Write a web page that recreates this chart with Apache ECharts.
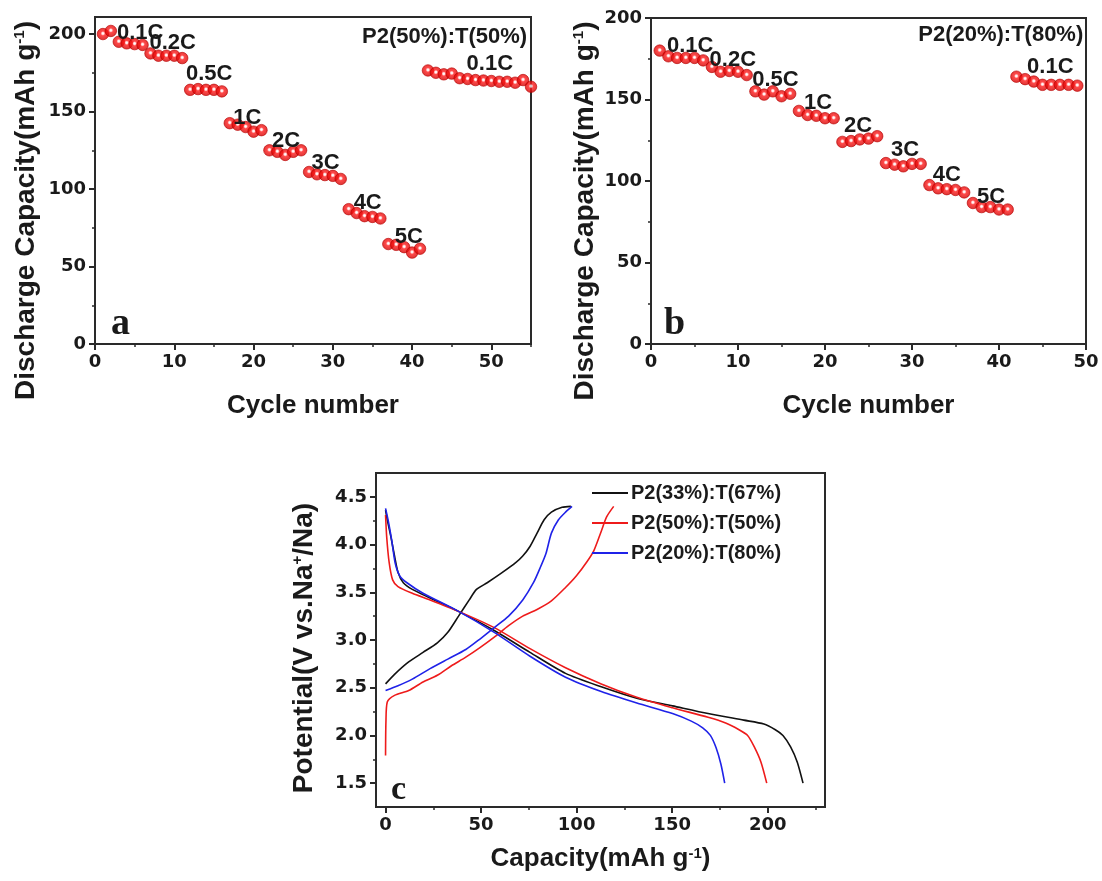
<!DOCTYPE html>
<html><head><meta charset="utf-8">
<script src="https://cdn.jsdelivr.net/npm/echarts@6/dist/echarts.min.js"></script>
<style>html,body{margin:0;padding:0;background:#fff}#c{width:1102px;height:881px}</style>
</head><body><div id="c"></div>
<script>
// ---------- Panel a : P2(50%):T(50%) rate capability ----------
const aCycles = [1,2,3,4,5,6,7,8,9,10,11,12,13,14,15,16,17,18,19,20,21,22,23,24,25,26,27,28,29,30,31,32,33,34,35,36,37,38,39,40,41,42,43,44,45,46,47,48,49,50,51,52,53,54,55];
const aCapacity = [200,202,195,194,193.5,193,
  187.5,186,186,186,184.5,
  164,164.5,164,164,163,
  142.5,141.5,140,137,138,
  125,124,122,124,125,
  111,109.5,109,108.5,106.5,
  87,84.5,82.5,82,81,
  64.5,64,62.5,59,61.5,
  176.5,175,174,174.5,171.5,171,170.3,170,169.7,169.2,169.2,168.6,170.3,166];
const aLabelText = ['0.1C','0.2C','0.5C','1C','2C','3C','4C','5C','0.1C','P2(50%):T(50%)'];
const aLabelPos = [[5.7,201],[9.8,194],[14.4,174],[19.2,146],[24.1,131],[29.1,117],[34.4,91],[39.6,69],[49.8,181],[44.1,198]];

// ---------- Panel b : P2(20%):T(80%) rate capability ----------
const bCycles = [1,2,3,4,5,6,7,8,9,10,11,12,13,14,15,16,17,18,19,20,21,22,23,24,25,26,27,28,29,30,31,32,33,34,35,36,37,38,39,40,41,42,43,44,45,46,47,48,49];
const bCapacity = [180,176.5,175.5,175.5,175.5,174,
  170,167,167.5,167,165,
  155,153,155,152,153.5,
  143,140.5,140,138.5,138.5,
  124,124.5,125.5,126,127.5,
  111,110,109,110.5,110.5,
  97.5,95.5,95,94.5,93,
  86.5,84,84,82.5,82.5,
  164,162.5,161,159,159,159,159,158.5];
const bLabelText = ['0.1C','0.2C','0.5C','1C','2C','3C','4C','5C','0.1C','P2(20%):T(80%)'];
const bLabelPos = [[4.5,183],[9.4,174],[14.3,162],[19.2,148],[23.8,134],[29.2,119],[34,104],[39.1,90],[45.9,170],[40.2,189.6]];

// ---------- Panel c : charge / discharge profiles [capacity, potential] ----------
const seriesNames = ['P2(33%):T(67%)','P2(50%):T(50%)','P2(20%):T(80%)'];
const p33Discharge = [[0,4.36],[0.9,4.26],[2.8,4.08],[4.7,3.88],[6.5,3.71],[9.3,3.60],[14,3.53],[23.3,3.44],[38.2,3.30],[56.9,3.10],[75.6,2.87],[94.2,2.65],[112.9,2.51],[131.5,2.39],[150.2,2.31],[168.8,2.23],[187.5,2.16],[198,2.12],[204,2.06],[208,2.0],[212,1.88],[215.5,1.72],[218.5,1.5]];
const p33Charge = [[0,2.54],[4.7,2.64],[12.1,2.77],[19.6,2.87],[27.1,2.97],[32.6,3.08],[38.2,3.25],[43.8,3.42],[47.6,3.53],[53.2,3.60],[60.6,3.70],[68.1,3.81],[71.8,3.88],[75.6,3.98],[79.3,4.12],[83,4.26],[86.8,4.34],[92.4,4.39],[97,4.40]];
const p50Discharge = [[0,4.31],[0.6,4.08],[1.9,3.81],[3.7,3.63],[6.5,3.56],[14,3.49],[23.3,3.42],[38.2,3.30],[56.9,3.13],[75.6,2.91],[94.2,2.71],[112.9,2.54],[131.5,2.40],[150.2,2.29],[168.8,2.19],[178,2.13],[185,2.06],[189.5,2.0],[193,1.88],[196.5,1.72],[199.5,1.5]];
const p50Charge = [[0,1.79],[0.2,2.14],[0.9,2.35],[4.7,2.42],[12.1,2.47],[19.6,2.56],[27.1,2.63],[34.5,2.73],[42,2.82],[49.4,2.92],[56.9,3.03],[64.4,3.15],[71.8,3.25],[79.3,3.32],[86.8,3.41],[94.2,3.55],[99.8,3.67],[105.4,3.82],[109.1,3.94],[112.9,4.14],[115.7,4.29],[119.4,4.40]];
const p20Discharge = [[0,4.38],[1.3,4.26],[3.2,4.05],[5,3.81],[7.5,3.67],[11.2,3.60],[19.6,3.49],[38.2,3.30],[56.9,3.08],[75.6,2.83],[94.2,2.61],[112.9,2.46],[131.5,2.34],[150.2,2.23],[160,2.15],[166,2.08],[170,2.0],[173,1.87],[175.5,1.7],[177.5,1.5]];
const p20Charge = [[0,2.47],[6.5,2.52],[14,2.59],[23.3,2.70],[32.6,2.80],[42,2.90],[49.4,3.01],[56.9,3.13],[64.4,3.25],[71.8,3.42],[77.4,3.60],[81.2,3.77],[84,3.91],[86.8,4.12],[90.5,4.26],[94.2,4.34],[97.6,4.40]];

// ---------- tick values ----------
const cycleTicks = [0,10,20,30,40,50];
const cycleMinorA = [5,15,25,35,45,55];
const cycleMinorB = [5,15,25,35,45];
const capTicks = [0,50,100,150,200];
const capMinor = [25,75,125,175];
const capXTicks = [0,50,100,150,200];
const capXMinor = [25,75,125,175,225];
const potTicks = [1.5,2.0,2.5,3.0,3.5,4.0,4.5];
const potMinor = [1.75,2.25,2.75,3.25,3.75,4.25];

const AX = '#2a2a2a';
const TXT = '#1a1a1a';
const TICKFONT = {fontFamily:'DejaVu Sans', fontWeight:'bold', fontSize:18, color:TXT};
const XNAMEFONT = {fontFamily:'Liberation Sans', fontWeight:'bold', fontSize:26, color:TXT};
const supRich = {sup:{fontFamily:'Liberation Sans', fontWeight:'bold', fontSize:15, color:TXT, verticalAlign:'top', padding:[0,0,11,0]}};
function yNameFont(size, shift) {
  return {fontFamily:'Liberation Sans', fontWeight:'bold', fontSize:size, color:TXT,
    padding:[0, shift, 0, 0], rich:supRich};
}

function majorAxis(grid, min, max, ticks, extra) {
  return Object.assign({
    type:'value', gridIndex:grid, min:min, max:max,
    axisLine:{show:true, onZero:false, lineStyle:{color:AX, width:2}},
    axisTick:{show:true, inside:false, length:6, lineStyle:{color:AX, width:2}, customValues:ticks},
    axisLabel:Object.assign({show:true, customValues:ticks, margin:9,
      formatter:function(v){return String(v);}}, TICKFONT),
    splitLine:{show:false}
  }, extra||{});
}
function minorAxis(grid, min, max, ticks, pos) {
  return {
    type:'value', gridIndex:grid, min:min, max:max, position:pos,
    axisLine:{show:false, onZero:false},
    axisTick:{show:true, inside:false, length:3, lineStyle:{color:AX, width:1.5}, customValues:ticks},
    axisLabel:{show:false}, splitLine:{show:false}
  };
}

const ball = new echarts.graphic.RadialGradient(0.5, 0.45, 0.55, [
  {offset:0, color:'#ffffff'}, {offset:0.14, color:'#ffe6e6'},
  {offset:0.34, color:'#ff1c1c'}, {offset:1, color:'#d00000'}]);

function annotSeries(x, y, texts, pos) {
  return {
    type:'custom', xAxisIndex:x, yAxisIndex:y, silent:true, z:10,
    encode:{x:0, y:1},
    data: pos.map(function(p,i){return [p[0], p[1], i];}),
    renderItem:function(params, api){
      const pt = api.coord([api.value(0), api.value(1)]);
      return {type:'text', x:pt[0], y:pt[1], z2:10,
        style:{text:texts[api.value(2)], fill:TXT,
          font:'bold 22px "Liberation Sans", Arial, sans-serif',
          align:'center', verticalAlign:'middle'}};
    }
  };
}

const chart = echarts.init(document.getElementById('c'), null, {renderer:'canvas'});
const gridStyle = {show:true, borderColor:AX, borderWidth:2, backgroundColor:'transparent'};
chart.setOption({
  animation:false,
  backgroundColor:'#fff',
  title:[
    {text:'a', left:106, top:300, textStyle:{fontFamily:'Liberation Serif', fontWeight:'bold', fontSize:38, color:TXT}},
    {text:'b', left:659, top:300, textStyle:{fontFamily:'Liberation Serif', fontWeight:'bold', fontSize:38, color:TXT}},
    {text:'c', left:386, top:768, textStyle:{fontFamily:'Liberation Serif', fontWeight:'bold', fontSize:34, color:TXT}}
  ],
  grid:[
    Object.assign({left:95, right:571, top:17, bottom:537}, gridStyle),
    Object.assign({left:651, right:16, top:18, bottom:537}, gridStyle),
    Object.assign({left:376, right:277, top:473, bottom:74}, gridStyle)
  ],
  xAxis:[
    majorAxis(0, 0, 55, cycleTicks, {position:'bottom', name:'Cycle number', nameLocation:'middle', nameGap:49, nameTextStyle:XNAMEFONT}),
    minorAxis(0, 0, 55, cycleMinorA, 'bottom'),
    majorAxis(1, 0, 50, cycleTicks, {position:'bottom', name:'Cycle number', nameLocation:'middle', nameGap:49, nameTextStyle:XNAMEFONT}),
    minorAxis(1, 0, 50, cycleMinorB, 'bottom'),
    majorAxis(2, -5, 230, capXTicks, {position:'bottom', name:'Capacity(mAh g{sup|-1})', nameLocation:'middle', nameGap:39, nameTextStyle:Object.assign({rich:supRich}, XNAMEFONT)}),
    minorAxis(2, -5, 230, capXMinor, 'bottom')
  ],
  yAxis:[
    majorAxis(0, 0, 211, capTicks, {position:'left', name:'Discharge Capacity(mAh g{sup|-1})', nameLocation:'middle', nameGap:55, nameTextStyle:yNameFont(28, 60)}),
    minorAxis(0, 0, 211, capMinor, 'left'),
    majorAxis(1, 0, 200, capTicks, {position:'left', name:'Discharge Capacity(mAh g{sup|-1})', nameLocation:'middle', nameGap:52, nameTextStyle:yNameFont(28, 60)}),
    minorAxis(1, 0, 200, capMinor, 'left'),
    majorAxis(2, 1.25, 4.75, potTicks, {position:'left', name:'Potential(V vs.Na{sup|+}/Na)', nameLocation:'middle', nameGap:58, nameTextStyle:yNameFont(28, 16),
      axisLabel:Object.assign({show:true, customValues:potTicks, margin:9, formatter:function(v){return v.toFixed(1);}}, TICKFONT)}),
    minorAxis(2, 1.25, 4.75, potMinor, 'left')
  ],
  legend:{
    show:true, orient:'vertical', left:587, top:478, itemGap:10,
    icon:'rect', itemWidth:36, itemHeight:2,
    data:seriesNames,
    textStyle:{fontFamily:'Liberation Sans', fontWeight:'bold', fontSize:20, color:TXT, padding:[0,0,0,-2]}
  },
  series:[
    {type:'scatter', xAxisIndex:0, yAxisIndex:0, symbol:'circle', symbolSize:11.5,
     itemStyle:{color:ball, borderColor:'#b80000', borderWidth:0.8}, z:3,
     data:aCycles.map(function(c,i){return [c, aCapacity[i]];})},
    annotSeries(0, 0, aLabelText, aLabelPos),
    {type:'scatter', xAxisIndex:2, yAxisIndex:2, symbol:'circle', symbolSize:11.5,
     itemStyle:{color:ball, borderColor:'#b80000', borderWidth:0.8}, z:3,
     data:bCycles.map(function(c,i){return [c, bCapacity[i]];})},
    annotSeries(2, 2, bLabelText, bLabelPos),
    {name:seriesNames[0], type:'line', xAxisIndex:4, yAxisIndex:4, showSymbol:false, smooth:0.25,
     color:'#111111', lineStyle:{width:1.6, color:'#111111'}, connectNulls:false,
     data:p33Discharge.concat(['-'], p33Charge)},
    {name:seriesNames[1], type:'line', xAxisIndex:4, yAxisIndex:4, showSymbol:false, smooth:0.25,
     color:'#ee1b1b', lineStyle:{width:1.6, color:'#ee1b1b'}, connectNulls:false,
     data:p50Discharge.concat(['-'], p50Charge)},
    {name:seriesNames[2], type:'line', xAxisIndex:4, yAxisIndex:4, showSymbol:false, smooth:0.25,
     color:'#1f22e8', lineStyle:{width:1.6, color:'#1f22e8'}, connectNulls:false,
     data:p20Discharge.concat(['-'], p20Charge)}
  ]
});
</script>
</body></html>
